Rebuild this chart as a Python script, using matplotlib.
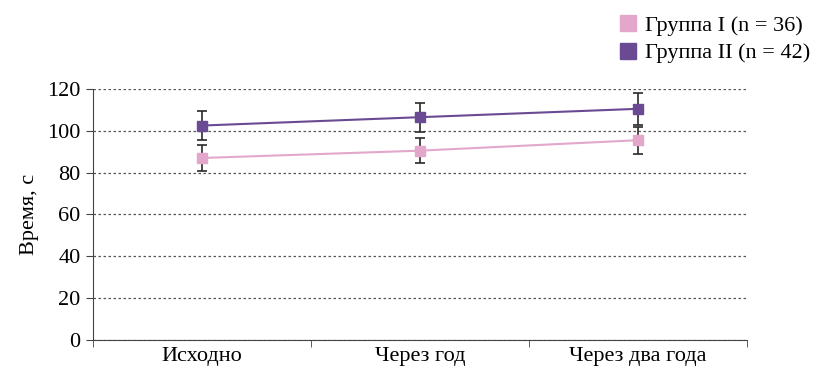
import numpy as np
import matplotlib.pyplot as plt
from matplotlib.lines import Line2D

plt.rcParams['font.family'] = ['Liberation Serif', 'DejaVu Serif']

categories = ['Исходно', 'Через год', 'Через два года']
group1 = [87, 90.5, 95.5]
group1_err = [6, 6, 6.5]
group2 = [102.5, 106.5, 110.5]
group2_err = [7, 7, 7.5]
labels = ['Группа I (n = 36)', 'Группа II (n = 42)']

c1 = '#e3a7cb'
c2 = '#6a4a93'
fs = 16

fig = plt.figure(figsize=(8.22, 3.66), dpi=100)
ax = fig.add_axes([0.113, 0.071, 0.796, 0.686])

x = np.arange(len(categories))
for vals, errs, col in [(group1, group1_err, c1), (group2, group2_err, c2)]:
    ax.errorbar(x, vals, yerr=errs, fmt='none', ecolor='#2a2a2a', elinewidth=1.2,
                capsize=3.5, capthick=1.2, zorder=2)
    ax.plot(x, vals, color=col, lw=1.5, marker='s', ms=7, zorder=3)

ax.set_xlim(-0.5, 2.5)
ax.set_ylim(0, 120)
ax.set_yticks(np.arange(0, 121, 20))
ax.yaxis.grid(True, linestyle=(0, (2, 2)), color='#555555', lw=0.9)
ax.set_axisbelow(True)
ax.set_xticks(x)
ax.set_xticklabels(categories, fontsize=fs)
ax.set_xticks([-0.5, 0.5, 1.5, 2.5], minor=True)
ax.tick_params(axis='x', which='major', length=0, pad=5)
ax.tick_params(axis='x', which='minor', length=5, color='#444444')
ax.tick_params(axis='y', labelsize=fs, length=5, color='#444444', pad=4)
for s in ['top', 'right']:
    ax.spines[s].set_visible(False)
for s in ['left', 'bottom']:
    ax.spines[s].set_color('#444444')
ax.set_ylabel('Время, с', fontsize=fs, labelpad=6)

handles = [Line2D([], [], color=c, marker='s', ms=11, lw=0) for c in (c1, c2)]
fig.legend(handles, labels, loc='upper right', bbox_to_anchor=(1.005, 1.0),
           frameon=False, fontsize=fs, handletextpad=0.2, handlelength=1.2,
           labelspacing=0.3, borderaxespad=0.3)

fig.savefig('out.png', dpi=100)
